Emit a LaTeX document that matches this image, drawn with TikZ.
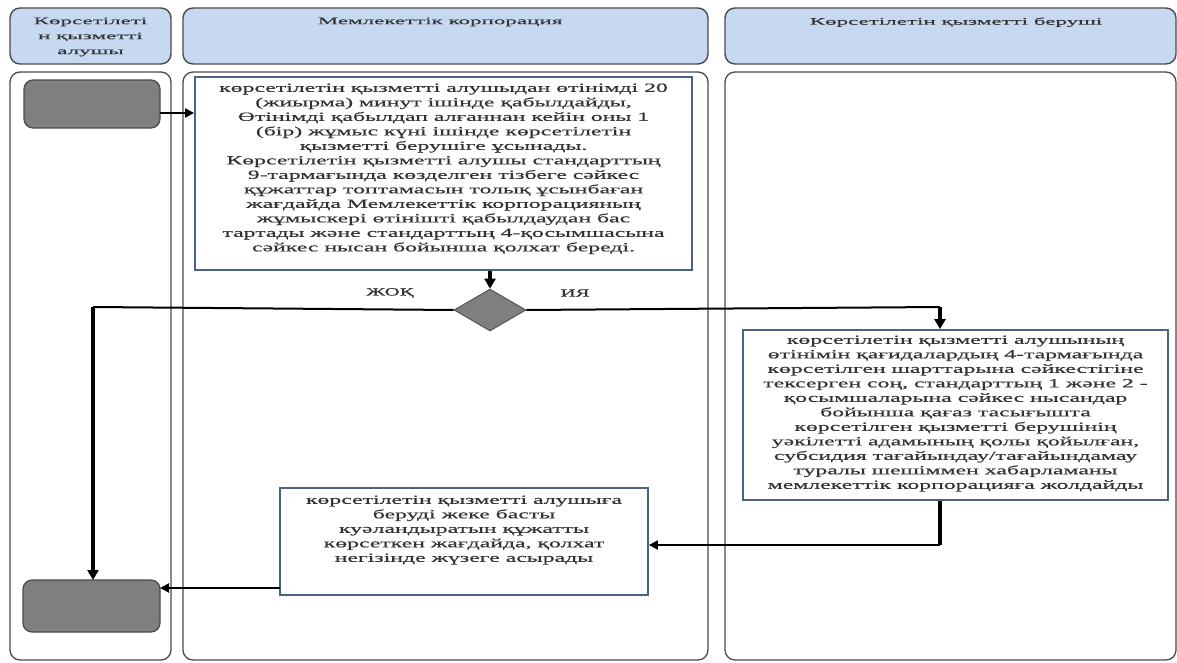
\documentclass[tikz,border=0pt]{standalone}
\usepackage{fontspec}
\setmainfont[FakeStretch=1.9,FakeBold=0.6]{Liberation Serif}
\newfontfamily\hdrfont[FakeStretch=2.3,FakeBold=0.4]{Liberation Serif}
\usetikzlibrary{arrows.meta,shapes.geometric}
\definecolor{hdrfill}{HTML}{C6D9F1}
\definecolor{lanedraw}{HTML}{4A4A4A}
\definecolor{boxdraw}{HTML}{4A6283}
\definecolor{termfill}{HTML}{7F7F7F}
\definecolor{txt}{HTML}{333333}
\tikzset{
  hdr/.style={draw=lanedraw,line width=1.4pt,fill=hdrfill,rounded corners=10pt},
  lanebody/.style={draw=lanedraw,line width=1.3pt,fill=white,rounded corners=10pt},
  term/.style={draw=lanedraw,line width=1.2pt,fill=termfill,rounded corners=9pt},
  procbox/.style={draw=boxdraw,line width=1.8pt,fill=white},
  proctext/.style={text=txt,align=center,font=\fontsize{12.5}{14.5}\selectfont},
  hdrtext/.style={text=txt,align=center,font=\hdrfont\fontsize{10}{15}\selectfont},
  dec/.style={diamond,draw=lanedraw,fill=termfill,line width=0.8pt,minimum width=72pt,minimum height=42pt,inner sep=0pt,aspect=1.7},
  flow/.style={line width=2pt,-{Triangle[length=9pt,width=9pt]}},
  flowthick/.style={line width=3.6pt,-{Triangle[length=10pt,width=11pt]}},
  lbl/.style={text=txt,font=\fontsize{11}{13}\selectfont}
}
\begin{document}
\begin{tikzpicture}[x=1pt,y=-1pt]
\useasboundingbox (0,0) rectangle (1177,663);
% headers
\draw[hdr] (10,8) rectangle (171,64);
\draw[hdr] (183,8) rectangle (708,64);
\draw[hdr] (725,8) rectangle (1176,64);
\node[hdrtext,anchor=north] (h1) at (90.5,14) {Көрсетілеті\\н қызметті\\алушы};
\node[hdrtext,anchor=north] (h2) at (440,14) {Мемлекеттік корпорация};
\node[hdrtext,anchor=north] (h3) at (956,14) {Көрсетілетін қызметті беруші};
% lane bodies
\draw[lanebody] (10,72) rectangle (171,660);
\draw[lanebody] (183,72) rectangle (708,660);
\draw[lanebody] (725,72) rectangle (1176,660);
% terminals
\path[term] (24,80) rectangle (160,128);
\coordinate (startE) at (160,113);
\path[term] (23,580) rectangle (160,632);
\coordinate (endN) at (93,580);
\coordinate (endE) at (160,588);
% process boxes
\node[procbox,minimum width=497pt,minimum height=193pt] (p1) at (443.5,173.5) {};
\node[proctext,anchor=north] (t1) at (443.5,80) {көрсетілетін қызметті алушыдан өтінімді 20\\(жиырма) минут ішінде қабылдайды,\\Өтінімді қабылдап алғаннан кейін оны 1\\(бір) жұмыс күні ішінде көрсетілетін\\қызметті берушіге ұсынады.\\Көрсетілетін қызметті алушы стандарттың\\9-тармағында көзделген тізбеге сәйкес\\құжаттар топтамасын толық ұсынбаған\\жағдайда Мемлекеттік корпорацияның\\жұмыскері өтінішті қабылдаудан бас\\тартады және стандарттың 4-қосымшасына\\сәйкес нысан бойынша қолхат береді.};
\node[dec] (d) at (490,310) {};
\node[lbl] (no) at (390,293) {ЖОҚ};
\node[lbl] (yes) at (575,293) {ИЯ};
\node[procbox,minimum width=425pt,minimum height=170pt] (p2) at (955.5,415) {};
\node[proctext,anchor=north] (t2) at (955.5,332) {көрсетілетін қызметті алушының\\өтінімін қағидалардың 4-тармағында\\көрсетілген шарттарына сәйкестігіне\\тексерген соң, стандарттың 1 және 2 -\\қосымшаларына сәйкес нысандар\\бойынша қағаз тасығышта\\көрсетілген қызметті берушінің\\уәкілетті адамының қолы қойылған,\\субсидия тағайындау/тағайындамау\\туралы шешіммен хабарламаны\\мемлекеттік корпорацияға жолдайды};
\node[procbox,minimum width=368pt,minimum height=107pt] (p3) at (464,541.5) {};
\node[proctext,anchor=north] (t3) at (464,492) {көрсетілетін қызметті алушыға\\беруді жеке басты\\куәландыратын құжатты\\көрсеткен жағдайда, қолхат\\негізінде жүзеге асырады};
% connectors
\draw[flow] (startE) -- (p1.west |- startE);
\draw[flowthick] (p1.south -| d.north) -- (d.north);
\coordinate (noC) at (93,307);
\draw[line width=2pt] (d.west) -- (noC);
\draw[flowthick] (noC) -- (endN);
\coordinate (yesC) at (940,307);
\draw[line width=2pt] (d.east) -- (yesC);
\draw[flowthick] (yesC) -- (p2.north -| yesC);
\coordinate (rC) at (940,545);
\draw[line width=3.6pt] (p2.south -| rC) -- (rC);
\draw[flow] (rC) -- (p3.east |- rC);
\coordinate (p3W) at (280,588);
\draw[flow] (p3W) -- (endE);
\end{tikzpicture}
\end{document}
